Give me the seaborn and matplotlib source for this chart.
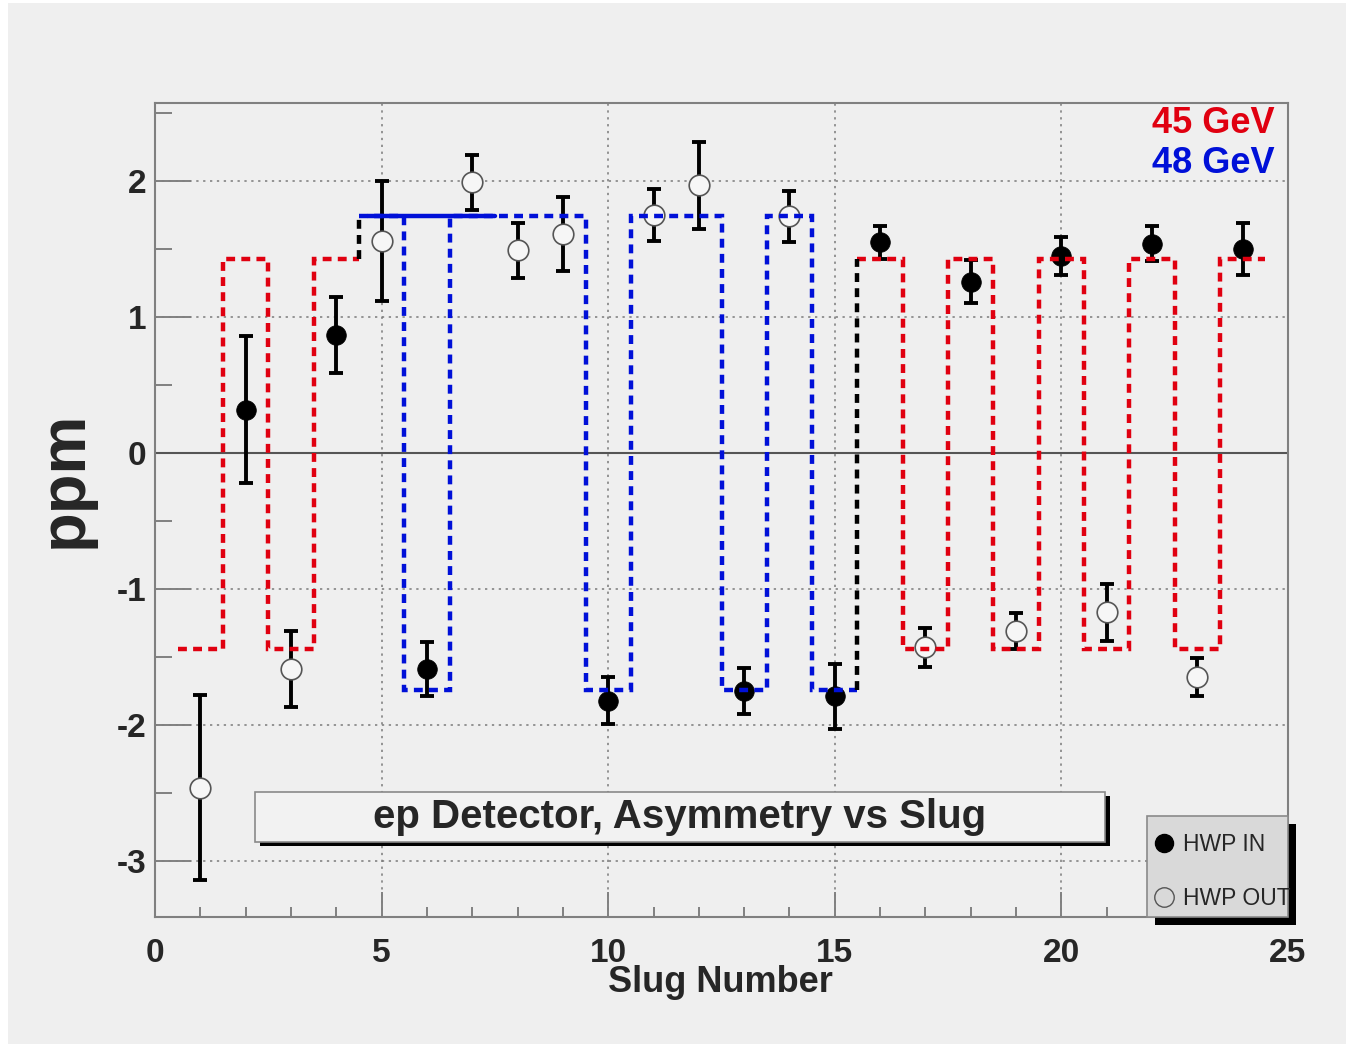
import numpy as np
import pandas as pd
import seaborn as sns
import matplotlib.pyplot as plt
from matplotlib.patches import Rectangle
from matplotlib.lines import Line2D
from matplotlib.ticker import MultipleLocator

# measured asymmetry per slug
slugs = np.arange(1, 25)
asym = [-2.46, 0.32, -1.59, 0.87, 1.56, -1.59, 1.99, 1.49, 1.61, -1.82, 1.75, 1.97,
        -1.75, 1.74, -1.79, 1.55, -1.43, 1.26, -1.31, 1.45, -1.17, 1.54, -1.65, 1.50]
asym_err = [0.68, 0.54, 0.28, 0.28, 0.44, 0.20, 0.20, 0.20, 0.27, 0.17, 0.19, 0.32,
            0.17, 0.19, 0.24, 0.12, 0.14, 0.16, 0.13, 0.14, 0.21, 0.13, 0.14, 0.19]
hwp = ['OUT', 'IN', 'OUT', 'IN', 'OUT', 'IN', 'OUT', 'OUT', 'OUT', 'IN', 'OUT', 'OUT',
       'IN', 'OUT', 'IN', 'IN', 'OUT', 'IN', 'OUT', 'IN', 'OUT', 'IN', 'OUT', 'IN']

# expected sign pattern per slug and beam energy
energy = [45] * 4 + [48] * 11 + [45] * 9
expected = [-1.44, 1.43, -1.44, 1.43, 1.74, -1.74, 1.74, 1.74, 1.74, -1.74, 1.74, 1.74,
            -1.74, 1.74, -1.74, 1.43, -1.44, 1.43, -1.44, 1.43, -1.44, 1.43, -1.44, 1.43]
solid_48_x = [4.7, 7.5]
solid_48_y = 1.74

energy_colors = {45: '#e00010', 48: '#0010d8'}

df = pd.DataFrame({'slug': slugs, 'asym': asym, 'err': asym_err, 'hwp': hwp})

sns.set_style('ticks')
plt.rcParams['font.family'] = ['Liberation Sans', 'DejaVu Sans']
plt.rcParams['font.weight'] = 'bold'
plt.rcParams['axes.unicode_minus'] = False

W, H = 1346, 1044
AX_L, AX_R, AX_T, AX_B = 155, 1288, 103, 917


def ax_x(px):
    return (px - AX_L) / (AX_R - AX_L)


def ax_y(py):
    return (AX_B - py) / (AX_B - AX_T)


bg = '#efefef'
fig = plt.figure(figsize=(W / 100, H / 100), dpi=100)
fig.patch.set_facecolor('white')
fig.patches.append(Rectangle((8 / W, 0), 1, 1 - 3 / H, transform=fig.transFigure,
                             facecolor=bg, edgecolor='none', zorder=-1))
ax = fig.add_axes([AX_L / W, (H - AX_B) / H, (AX_R - AX_L) / W, (AX_B - AX_T) / H])
ax.set_facecolor(bg)

ax.set_xlim(0, 25)
ax.set_ylim(-3.412, 2.574)

ax.grid(True, which='major', color='#7a7a7a', linestyle=(0, (1.5, 3)), linewidth=1.1)
ax.axhline(0, color='#555555', linewidth=1.5, zorder=1)

# error bars then markers
ax.errorbar(df['slug'], df['asym'], yerr=df['err'], fmt='none', ecolor='black',
            elinewidth=2.8, capsize=5, capthick=2.8, zorder=3)
sns.scatterplot(data=df[df['hwp'] == 'IN'], x='slug', y='asym', ax=ax, color='black',
                edgecolor='black', s=200, linewidth=0.5, zorder=4, legend=False)
sns.scatterplot(data=df[df['hwp'] == 'OUT'], x='slug', y='asym', ax=ax, color='#f6f6f6',
                edgecolor='#555555', s=220, linewidth=1.2, zorder=4, legend=False)

# expected asymmetry step lines, one per energy group
groups = []
start = 0
for i in range(1, len(energy) + 1):
    if i == len(energy) or energy[i] != energy[start]:
        groups.append((start, i))
        start = i
for gi, (a, b) in enumerate(groups):
    vals = expected[a:b]
    edges = np.arange(slugs[a] - 0.5, slugs[b - 1] + 0.6, 1.0)
    ax.stairs(vals, edges, baseline=None, color=energy_colors[energy[a]],
              linewidth=3.2, linestyle=(0, (2.0, 1.4)), zorder=5)
    if gi > 0:
        prev = expected[a - 1]
        ax.plot([edges[0], edges[0]], [prev, vals[0]], color='black', linewidth=3.2,
                linestyle=(0, (2.0, 1.4)), zorder=5)
ax.plot(solid_48_x, [solid_48_y, solid_48_y], color=energy_colors[48], linewidth=3.2, zorder=5)

# axes style
ax.xaxis.set_major_locator(MultipleLocator(5))
ax.xaxis.set_minor_locator(MultipleLocator(1))
ax.yaxis.set_major_locator(MultipleLocator(1))
ax.yaxis.set_minor_locator(MultipleLocator(0.5))
ax.tick_params(axis='both', which='both', direction='in', color='#808080', width=1.4)
ax.tick_params(axis='x', which='major', length=18, pad=15, labelsize=24)
ax.tick_params(axis='x', which='minor', length=7)
ax.tick_params(axis='y', which='major', length=26, pad=6, labelsize=24)
ax.tick_params(axis='y', which='minor', length=12)
for s in ax.spines.values():
    s.set_color('#808080')
    s.set_linewidth(1.5)
    s.set_visible(True)

ax.set_xlabel('Slug Number', fontsize=26, fontweight='bold', va='center')
ax.xaxis.set_label_coords(ax_x(720), ax_y(983))
ax.set_ylabel('ppm', fontsize=47, fontweight='bold', va='center', ha='center')
ax.yaxis.set_label_coords(ax_x(65), ax_y(479))

# energy labels
ax.text(ax_x(1275), ax_y(124), '45 GeV', color=energy_colors[45],
        fontsize=26, fontweight='bold', ha='right', va='center', transform=ax.transAxes)
ax.text(ax_x(1275), ax_y(164), '48 GeV', color=energy_colors[48],
        fontsize=26, fontweight='bold', ha='right', va='center', transform=ax.transAxes)

# title box with shadow
bx0, bx1 = ax_x(255), ax_x(1105)
by0, by1 = ax_y(842), ax_y(792)
ax.add_patch(Rectangle((ax_x(260), ax_y(846)), bx1 - bx0, by1 - by0,
                       transform=ax.transAxes, facecolor='black', edgecolor='none', zorder=6))
ax.add_patch(Rectangle((bx0, by0), bx1 - bx0, by1 - by0, transform=ax.transAxes,
                       facecolor='#f2f2f2', edgecolor='#8a8a8a', linewidth=1.2, zorder=7))
ax.text((bx0 + bx1) / 2, (by0 + by1) / 2, 'ep Detector, Asymmetry vs Slug', fontsize=29,
        fontweight='bold', ha='center', va='center', transform=ax.transAxes, zorder=8)

# legend: fixed box with black shadow, entries on top
lx0, lx1 = ax_x(1147), ax_x(1288)
ly0, ly1 = ax_y(917), ax_y(816)
ax.add_patch(Rectangle((ax_x(1155), ax_y(925)), lx1 - lx0, ly1 - ly0, transform=ax.transAxes,
                       facecolor='black', edgecolor='none', clip_on=False, zorder=8.5))
ax.add_patch(Rectangle((lx0, ly0), lx1 - lx0, ly1 - ly0, transform=ax.transAxes,
                       facecolor='#d9d9d9', edgecolor='#8a8a8a', linewidth=1.2,
                       clip_on=False, zorder=9))
handles = [Line2D([], [], marker='o', linestyle='none', markersize=13, color='black'),
           Line2D([], [], marker='o', linestyle='none', markersize=14, markerfacecolor='none',
                  markeredgecolor='#555555', markeredgewidth=1.0)]
leg = ax.legend(handles, ['HWP IN', 'HWP OUT'], loc='upper left',
                bbox_to_anchor=(lx0, ax_y(825)), prop={'size': 16.5, 'weight': 'normal'},
                frameon=False, borderpad=0.36, labelspacing=1.35, handlelength=0.8,
                handletextpad=0.4, borderaxespad=0)
leg.set_zorder(10)

fig.savefig('out.png', dpi=100, facecolor=fig.get_facecolor())
